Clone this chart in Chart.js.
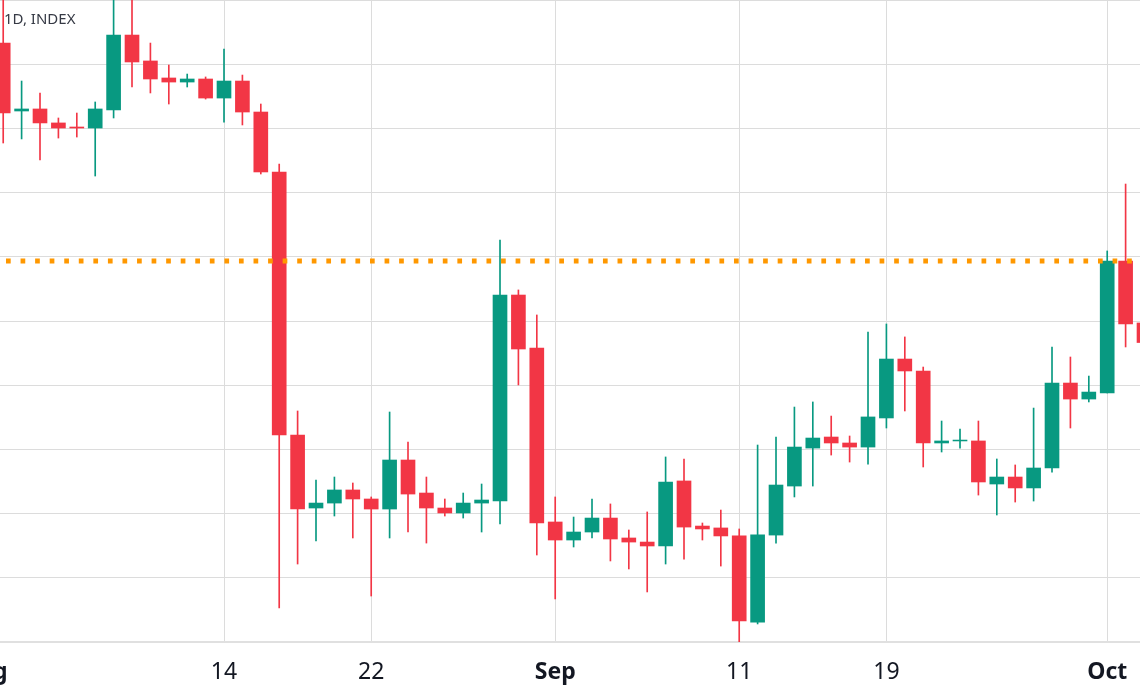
<!DOCTYPE html>
<html>
<head>
<meta charset="utf-8">
<title>1D, INDEX</title>
<script src="https://cdn.jsdelivr.net/npm/chart.js@4.4.1/dist/chart.umd.min.js"></script>
<style>
  html, body { margin: 0; padding: 0; background: #ffffff; overflow: hidden; }
  body { width: 1140px; height: 694px; position: relative; }
  #wrap { position: absolute; left: -60px; top: 0; width: 1260px; height: 694px; }
  #label {
    position: absolute; left: 4px; top: 11px;
    font-family: "Noto Sans", sans-serif; font-size: 15px; line-height: 1;
    color: #363a45; z-index: 2;
  }
</style>
</head>
<body>
<div id="label">1D, INDEX</div>
<div id="wrap"><canvas id="myChart"></canvas></div>
<script>
// daily candles
const dates = [
  '2023-08-02','2023-08-03','2023-08-04','2023-08-05','2023-08-06','2023-08-07','2023-08-08',
  '2023-08-09','2023-08-10','2023-08-11','2023-08-12','2023-08-13','2023-08-14','2023-08-15',
  '2023-08-16','2023-08-17','2023-08-18','2023-08-19','2023-08-20','2023-08-21','2023-08-22',
  '2023-08-23','2023-08-24','2023-08-25','2023-08-26','2023-08-27','2023-08-28','2023-08-29',
  '2023-08-30','2023-08-31','2023-09-01','2023-09-02','2023-09-03','2023-09-04','2023-09-05',
  '2023-09-06','2023-09-07','2023-09-08','2023-09-09','2023-09-10','2023-09-11','2023-09-12',
  '2023-09-13','2023-09-14','2023-09-15','2023-09-16','2023-09-17','2023-09-18','2023-09-19',
  '2023-09-20','2023-09-21','2023-09-22','2023-09-23','2023-09-24','2023-09-25','2023-09-26',
  '2023-09-27','2023-09-28','2023-09-29','2023-09-30','2023-10-01','2023-10-02','2023-10-03'
];
const opens = [
  29716, 29181, 29197, 29087, 29055, 29047, 29189,
  29779, 29575, 29441, 29409, 29433, 29283, 29417,
  29173, 28701, 26630, 26055, 26094, 26197, 26126,
  26047, 26433, 26173, 26055, 26016, 26094, 26110,
  27732, 27315, 25945, 25803, 25866, 25976, 25819,
  25787, 25756, 26268, 25913, 25898, 25835, 25157,
  25842, 26228, 26527, 26614, 26567, 26535, 26764,
  27228, 27134, 26567, 26583, 26583, 26244, 26299,
  26213, 26370, 27039, 26913, 26961, 28000, 27512
];
const highs = [
  30100, 29417, 29323, 29126, 29165, 29252, 30150,
  30100, 29716, 29543, 29472, 29449, 29669, 29464,
  29236, 28764, 26819, 26275, 26299, 26252, 26142,
  26811, 26575, 26299, 26126, 26173, 26244, 28165,
  27772, 27575, 26142, 25984, 26126, 26087, 25882,
  26024, 26457, 26441, 25937, 26039, 25890, 26551,
  26614, 26850, 26890, 26779, 26622, 27441, 27504,
  27402, 27165, 26740, 26677, 26740, 26441, 26394,
  26842, 27323, 27244, 27094, 28079, 28606, 27620
];
const lows = [
  28929, 28961, 28795, 28968, 28976, 28669, 29126,
  29370, 29323, 29236, 29370, 29275, 29094, 29071,
  28685, 25268, 25614, 25795, 25992, 25819, 25362,
  25819, 25866, 25779, 25992, 25976, 25866, 25929,
  27024, 25685, 25339, 25748, 25819, 25638, 25575,
  25394, 25614, 25653, 25803, 25598, 24976, 25142,
  25779, 26142, 26228, 26472, 26417, 26401, 26685,
  26819, 26378, 26496, 26527, 26157, 26000, 26102,
  26110, 26338, 26685, 26890, 26961, 27323, 27170
];
const closes = [
  29165, 29197, 29087, 29047, 29047, 29197, 29779,
  29567, 29433, 29409, 29433, 29283, 29417, 29173,
  28701, 26630, 26047, 26094, 26197, 26126, 26047,
  26433, 26165, 26055, 26016, 26094, 26118, 27732,
  27307, 25937, 25803, 25866, 25976, 25811, 25787,
  25756, 26260, 25905, 25890, 25835, 25165, 25843,
  26236, 26535, 26606, 26567, 26535, 26772, 27228,
  27134, 26567, 26583, 26590, 26260, 26299, 26213,
  26370, 27039, 26913, 26968, 28000, 27504, 27358
];

// horizontal price line
const priceLine = 28000;

// x axis labels (days counted from Aug 1)
const tickDays = [0, 13, 21, 31, 41, 49, 61];
const tickLabels = ['Aug', '14', '22', 'Sep', '11', '19', 'Oct'];
const monthTicks = [0, 31, 61];

const GREEN = '#089981';
const RED = '#F23645';
const FONT = '"Noto Sans", sans-serif';

const day0 = Date.parse('2023-08-01');
const xs = dates.map(d => Math.round((Date.parse(d) - day0) / 86400000));
const colors = opens.map((o, i) => closes[i] >= o ? GREEN : RED);

const wicks = xs.map((x, i) => ({ x: x, y: [lows[i], highs[i]] }));
const bodies = xs.map((x, i) => ({ x: x, y: [opens[i], closes[i]] }));

const ctx = document.getElementById('myChart').getContext('2d');
const myChart = new Chart(ctx, {
    type: 'bar',
    data: {
        datasets: [
            {
                type: 'line',
                data: [{ x: -2.435, y: priceLine }, { x: 66.043, y: priceLine }],
                borderColor: '#FF9800',
                borderWidth: 5,
                borderDash: [4.7, 9.86],
                borderDashOffset: 6.8,
                borderCapStyle: 'butt',
                pointRadius: 0,
                order: 0
            },
            {
                data: bodies,
                backgroundColor: colors,
                borderWidth: 0,
                barThickness: 14,
                grouped: false,
                order: 1
            },
            {
                data: wicks,
                backgroundColor: colors,
                borderWidth: 0,
                barThickness: 1,
                grouped: false,
                order: 2
            }
        ]
    },
    options: {
        responsive: true,
        maintainAspectRatio: false,
        animation: false,
        events: [],
        layout: { padding: 0 },
        plugins: {
            legend: { display: false },
            tooltip: { enabled: false }
        },
        scales: {
            x: {
                type: 'linear',
                min: -2.435,
                max: 66.043,
                offset: false,
                afterBuildTicks: (scale) => {
                    scale.ticks = tickDays.map(v => ({ value: v }));
                },
                afterFit: (scale) => {
                    scale.height = 52;
                },
                grid: {
                    offset: false,
                    color: '#dcdcdc',
                    lineWidth: 1,
                    drawTicks: false
                },
                border: { color: '#e0e0e0', width: 2 },
                ticks: {
                    autoSkip: false,
                    maxRotation: 0,
                    padding: 17,
                    color: '#131722',
                    font: (c) => ({
                        family: FONT,
                        size: 23,
                        weight: (c.tick && monthTicks.includes(c.tick.value)) ? 'bold' : 'normal'
                    }),
                    callback: (value) => tickLabels[tickDays.indexOf(value)]
                }
            },
            y: {
                min: 25000,
                max: 30055,
                grid: {
                    color: '#dcdcdc',
                    lineWidth: 1,
                    drawTicks: false
                },
                border: { display: false },
                ticks: {
                    display: false,
                    stepSize: 500,
                    includeBounds: false
                }
            }
        }
    }
});
</script>
</body>
</html>
